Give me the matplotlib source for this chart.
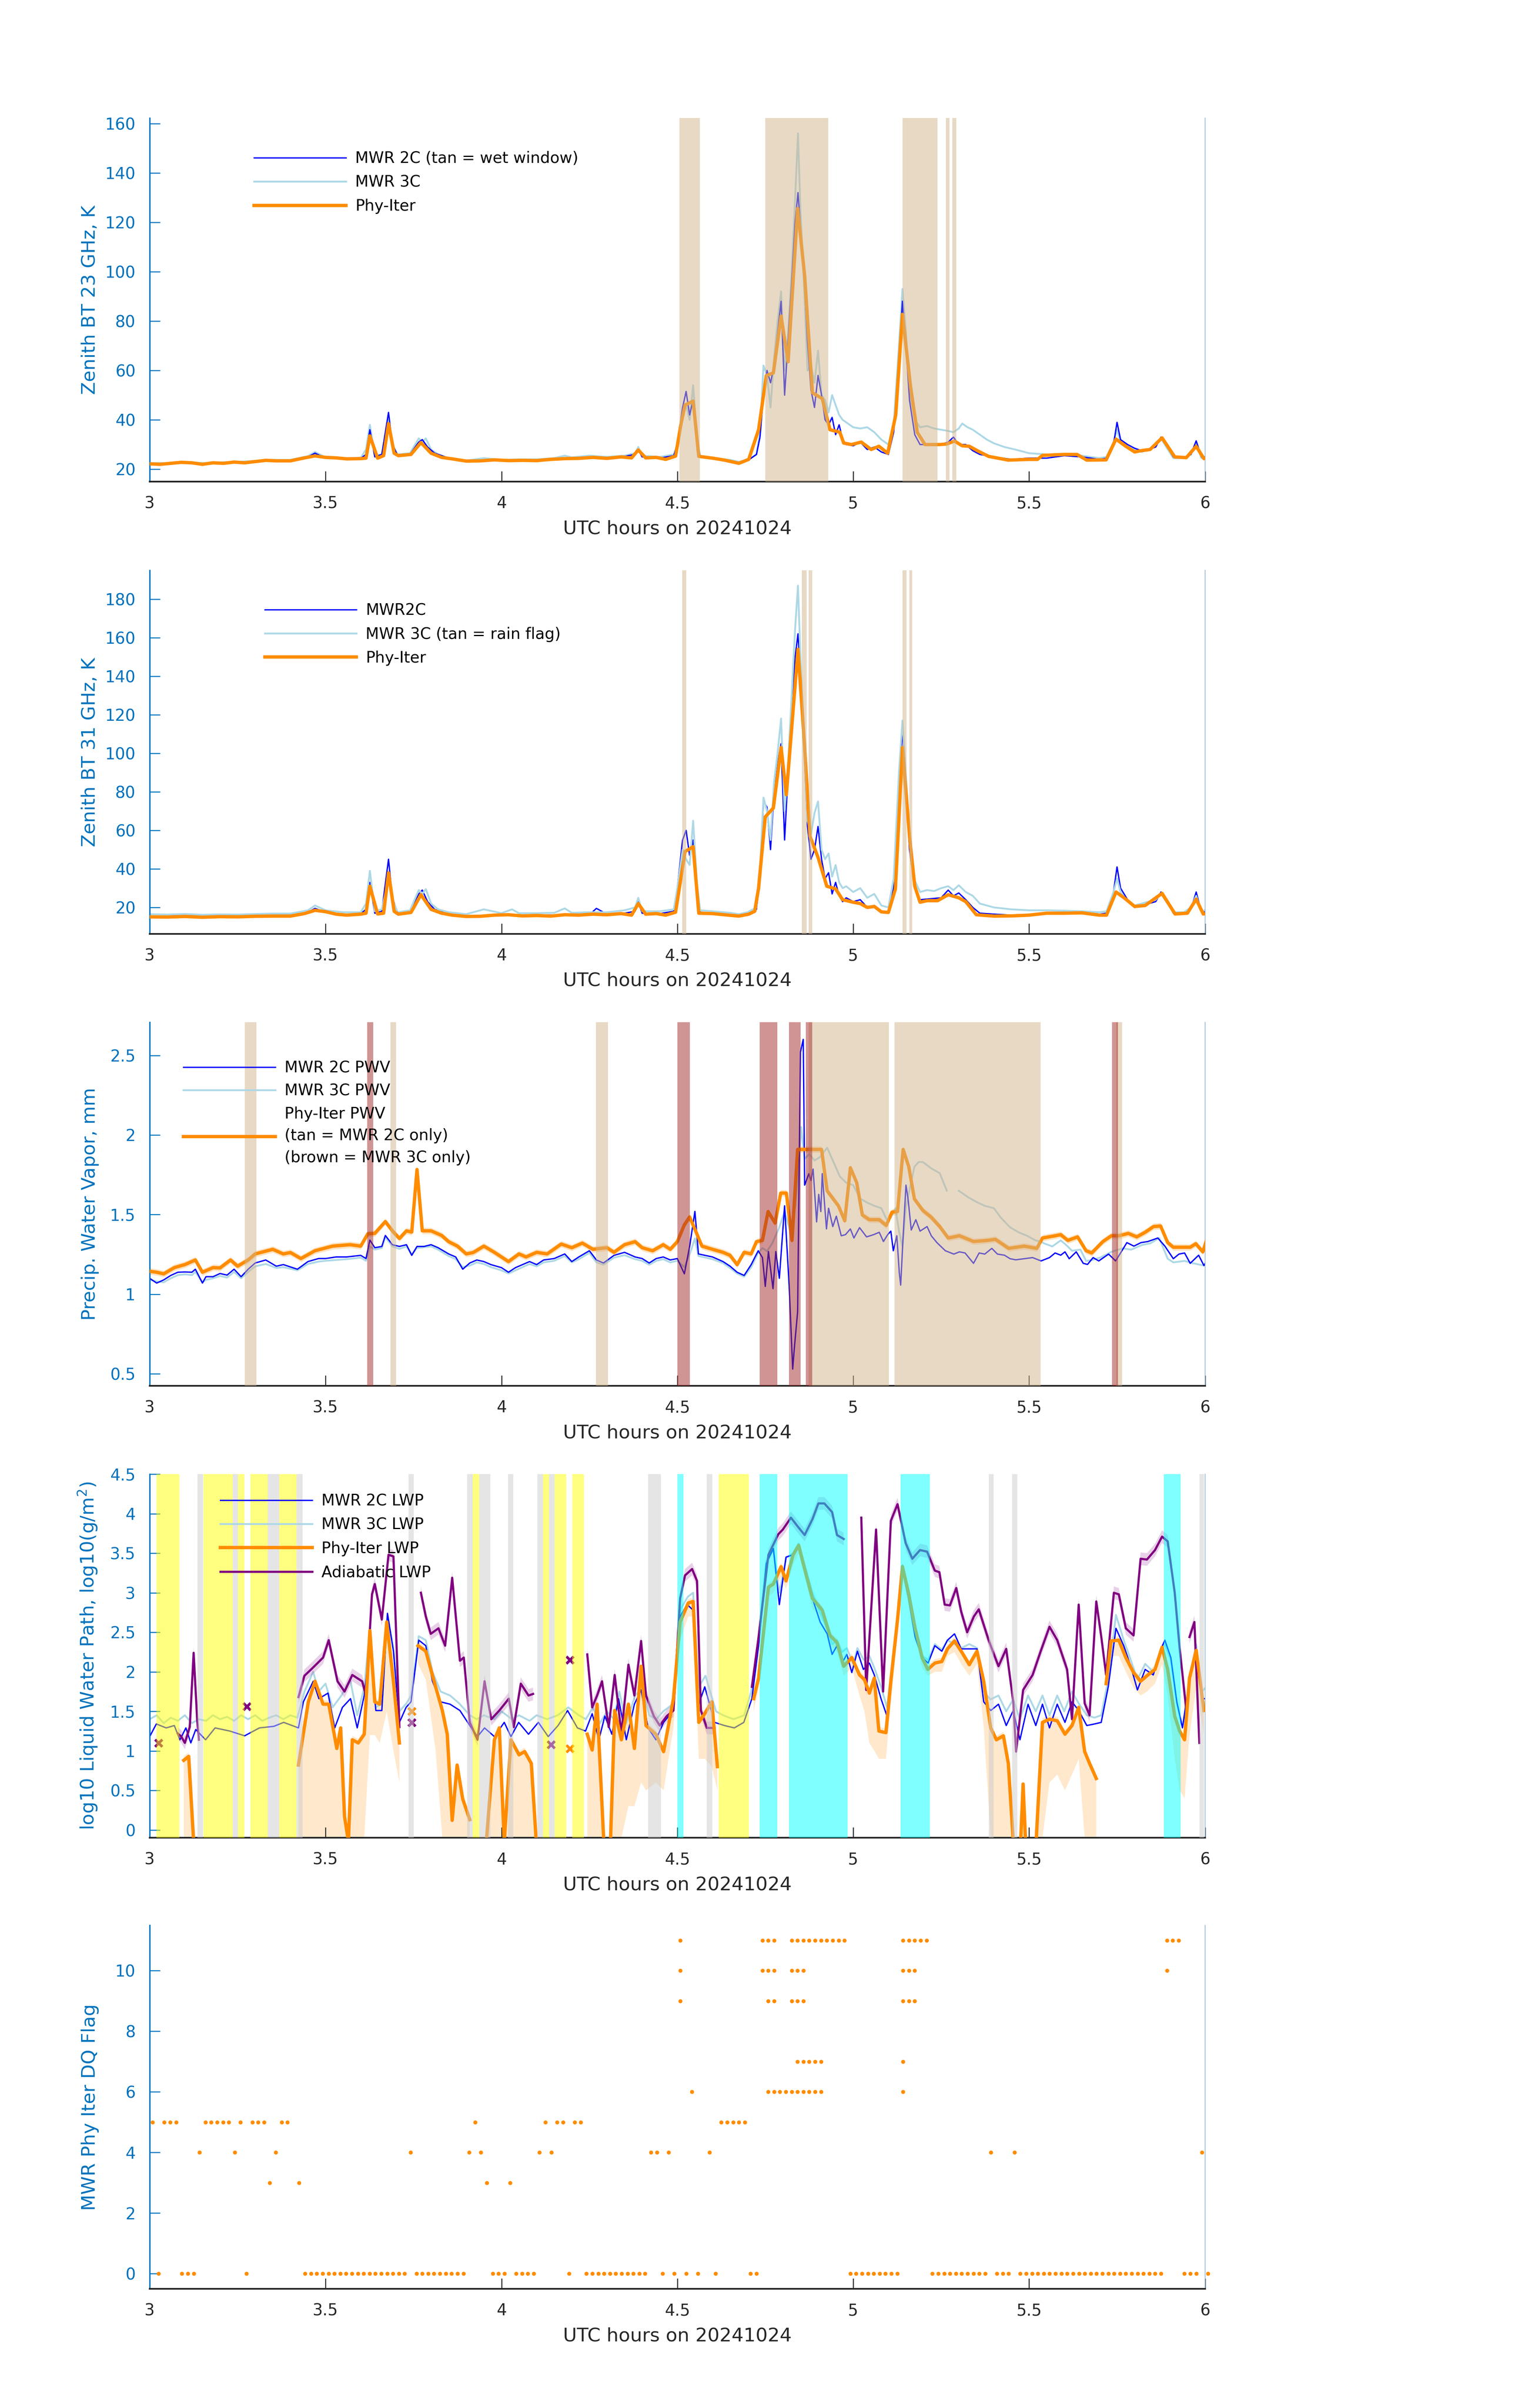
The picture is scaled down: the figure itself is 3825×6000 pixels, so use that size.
import numpy as np
import matplotlib
matplotlib.use('Agg')
import matplotlib.pyplot as plt
from matplotlib.ticker import FuncFormatter

nan = np.nan

# ---------------- panel 1: zenith BT 23 GHz (time [h], K) ----------------
bt23_2c = [(3.00,22.0),(3.05,22.3),(3.10,22.9),(3.15,22.2),(3.20,22.5),(3.25,22.8),(3.30,23.2),(3.35,23.6),
           (3.40,23.5),(3.45,25.0),(3.47,26.5),(3.50,24.5),(3.55,24.3),(3.60,24.4),(3.615,26),(3.626,36),
           (3.64,25),(3.66,26),(3.679,43),(3.69,30),(3.705,25.5),(3.74,26),(3.765,31),(3.775,32),(3.79,29),
           (3.81,26.5),(3.85,24.5),(3.90,23.2),(3.95,23.5),(4.00,23.4),(4.05,23.5),(4.10,23.6),(4.15,24.0),
           (4.20,24.6),(4.25,24.8),(4.30,24.5),(4.35,25.2),(4.38,26),(4.389,28),(4.40,25),(4.45,24.5),
           (4.49,25.5),(4.50,30),(4.515,45),(4.525,51.5),(4.535,42),(4.545,48),(4.556,30),(4.565,25),
           (4.60,24.3),(4.65,23.5),(4.675,22.5),(4.70,23.5),(4.725,26),(4.735,33),(4.745,50),(4.755,60),
           (4.765,55),(4.775,62),(4.785,75),(4.795,88),(4.805,50),(4.815,72),(4.825,95),(4.835,120),
           (4.843,132),(4.85,118),(4.86,100),(4.87,72),(4.88,52),(4.89,45),(4.90,58),(4.91,50),(4.92,40),
           (4.93,38),(4.94,41),(4.95,34),(4.96,38),(4.97,32),(4.98,30),(5.00,29.5),(5.02,31),(5.04,28),
           (5.06,29),(5.08,27),(5.10,26),(5.115,35),(5.13,60),(5.14,88),(5.15,70),(5.16,48),(5.175,34),
           (5.19,30),(5.22,30),(5.25,30),(5.27,31),(5.285,33),(5.30,30),(5.32,30),(5.34,27.5),(5.36,26),
           (5.40,25),(5.45,24),(5.50,24.5),(5.55,24.5),(5.60,25.5),(5.65,25),(5.70,24),(5.72,24.5),
           (5.74,30),(5.75,39),(5.76,32),(5.78,30),(5.80,28.5),(5.82,27.5),(5.84,28),(5.86,29),(5.875,33),
           (5.89,30),(5.91,25),(5.94,24.5),(5.96,26),(5.975,31.5),(5.99,25),(6.01,25)]
bt23_3c = [(3.00,22.5),(3.05,22.5),(3.10,23.0),(3.15,22.5),(3.20,22.8),(3.25,23.0),(3.30,23.4),(3.35,23.8),
           (3.40,23.8),(3.45,25.3),(3.47,27),(3.50,24.8),(3.55,24.5),(3.60,24.6),(3.615,28),(3.626,38),
           (3.64,25.5),(3.66,26),(3.679,40),(3.69,30),(3.705,26),(3.74,26.5),(3.765,32.5),(3.775,31),
           (3.785,32.5),(3.80,28),(3.82,26),(3.85,24.5),(3.90,23.5),(3.95,24.5),(4.00,23.8),(4.05,24),
           (4.10,24),(4.15,24.5),(4.18,25.5),(4.20,24.8),(4.25,25.5),(4.30,25),(4.35,25.5),(4.38,26.5),
           (4.389,29),(4.40,25.5),(4.45,25),(4.49,26),(4.50,30),(4.515,44),(4.525,46),(4.535,40),(4.545,54),
           (4.556,32),(4.565,25.5),(4.60,24.5),(4.65,23.8),(4.675,23),(4.70,23.8),(4.725,26),(4.735,35),
           (4.745,62),(4.755,58),(4.765,45),(4.775,65),(4.785,80),(4.795,92),(4.805,60),(4.815,75),
           (4.825,100),(4.835,130),(4.843,156),(4.85,125),(4.86,95),(4.87,60),(4.88,62),(4.89,55),(4.90,68),
           (4.91,50),(4.92,48),(4.93,43),(4.94,50),(4.95,46),(4.96,42),(4.97,40),(4.98,39),(5.00,37),
           (5.02,36.5),(5.04,37),(5.06,35),(5.08,32),(5.10,30),(5.115,38),(5.13,70),(5.14,93),(5.15,75),
           (5.16,52),(5.175,40),(5.19,37),(5.21,37.5),(5.23,36.5),(5.25,36),(5.27,35.5),(5.285,35),
           (5.30,36.5),(5.31,38.5),(5.325,37),(5.34,36),(5.36,34),(5.38,32),(5.40,30.5),(5.43,29),(5.46,28),
           (5.50,26.5),(5.55,26),(5.60,26),(5.65,25.5),(5.70,24.5),(5.72,25),(5.74,31),(5.75,36),(5.76,31),
           (5.78,29),(5.80,28),(5.82,27),(5.84,28),(5.86,29.5),(5.875,32.5),(5.89,29),(5.91,24.5),
           (5.94,24.5),(5.96,26),(5.975,30),(5.99,24.5),(6.01,25)]
bt23_phy = [(3.00,22.2),(3.03,22.0),(3.06,22.4),(3.09,22.8),(3.12,22.6),(3.15,22.0),(3.18,22.6),(3.21,22.4),
            (3.24,22.9),(3.27,22.6),(3.30,23.1),(3.33,23.6),(3.36,23.4),(3.40,23.4),(3.44,24.6),(3.47,25.4),
            (3.50,24.8),(3.53,24.6),(3.56,24.2),(3.60,24.3),(3.615,24.5),(3.626,33.5),(3.648,24.5),
            (3.665,25.5),(3.679,38.5),(3.695,26.5),(3.707,25.5),(3.743,26.0),(3.771,30.8),(3.80,26.5),
            (3.83,24.8),(3.86,24.2),(3.90,23.3),(3.94,23.4),(3.98,23.8),(4.02,23.5),(4.06,23.6),(4.10,23.5),
            (4.14,24.0),(4.18,24.3),(4.22,24.4),(4.26,24.8),(4.30,24.4),(4.34,25.0),(4.37,24.6),(4.389,27.8),
            (4.41,24.6),(4.44,24.8),(4.467,24.0),(4.495,25.3),(4.51,38.0),(4.522,46.0),(4.545,47.6),
            (4.561,25.2),(4.60,24.5),(4.634,23.7),(4.675,22.4),(4.703,24.0),(4.731,36.0),(4.753,57.9),
            (4.773,59.0),(4.795,82.0),(4.815,63.5),(4.842,125.6),(4.862,98.3),(4.884,51.0),(4.912,48.6),
            (4.934,36.0),(4.962,35.0),(4.973,30.6),(4.995,30.0),(5.023,31.0),(5.051,28.0),(5.073,29.3),
            (5.098,26.5),(5.121,42.0),(5.14,82.7),(5.163,53.5),(5.182,35.0),(5.204,30.0),(5.246,30.0),
            (5.265,30.2),(5.288,31.4),(5.31,29.5),(5.33,29.3),(5.357,27.2),(5.385,25.2),(5.441,23.7),
            (5.50,24.0),(5.524,24.0),(5.538,25.6),(5.60,26.0),(5.636,26.0),(5.664,23.7),(5.719,23.8),
            (5.747,32.2),(5.775,29.3),(5.80,27.0),(5.817,27.5),(5.844,28.0),(5.878,32.7),(5.914,25.0),
            (5.947,24.7),(5.975,29.3),(5.997,24.3),(6.011,25.0)]
wet_window = [(4.506,4.564),(4.750,4.929),(5.140,5.240),(5.263,5.274),(5.282,5.293)]

# ---------------- panel 2: zenith BT 31 GHz ----------------
bt31_2c = [(3.00,15.5),(3.05,15.5),(3.10,15.8),(3.15,15.3),(3.20,15.6),(3.25,15.4),(3.30,15.8),(3.35,16.0),
           (3.40,16.0),(3.45,17.5),(3.47,19.5),(3.50,17.5),(3.55,16.3),(3.60,16.8),(3.615,19),(3.626,33),
           (3.64,17),(3.66,18),(3.679,45),(3.69,25),(3.705,17),(3.74,17.5),(3.765,27),(3.775,29),(3.79,23),
           (3.81,19),(3.85,16.5),(3.90,15.5),(3.95,15.6),(4.00,16.2),(4.05,16),(4.10,16.2),(4.15,16),
           (4.20,16.5),(4.25,16.2),(4.27,19.5),(4.30,16.5),(4.35,17),(4.38,18),(4.389,23),(4.40,17),
           (4.45,16.8),(4.49,18),(4.50,30),(4.515,55),(4.525,60),(4.535,47),(4.545,55),(4.556,30),
           (4.565,17.5),(4.60,17),(4.65,16.2),(4.675,15.5),(4.70,16.5),(4.725,19),(4.735,35),(4.745,75),
           (4.755,72),(4.765,50),(4.775,80),(4.785,95),(4.795,105),(4.805,55),(4.815,90),(4.825,125),
           (4.835,150),(4.843,162),(4.85,140),(4.86,105),(4.87,62),(4.88,45),(4.89,50),(4.90,62),(4.91,45),
           (4.92,35),(4.93,38),(4.94,27),(4.95,33),(4.96,26),(4.97,23),(4.98,25),(5.00,23),(5.02,24),
           (5.04,20),(5.06,21),(5.08,18),(5.10,17.5),(5.115,30),(5.13,80),(5.14,112),(5.15,85),(5.16,50),
           (5.175,30),(5.19,24),(5.22,24.5),(5.25,25),(5.27,29),(5.285,26),(5.30,27.5),(5.32,24),(5.34,20),
           (5.36,17),(5.40,16.5),(5.45,16),(5.50,16.3),(5.55,17.2),(5.60,17.5),(5.65,17.5),(5.70,16.5),
           (5.72,17),(5.74,28),(5.75,41),(5.76,30),(5.78,24),(5.80,20),(5.82,21),(5.84,22),(5.86,23),
           (5.875,28),(5.89,24),(5.91,17),(5.94,17),(5.96,19),(5.975,28),(5.99,17.5),(6.01,18)]
bt31_3c = [(3.00,16.5),(3.05,16.3),(3.10,16.6),(3.15,16.2),(3.20,16.4),(3.25,16.3),(3.30,16.6),(3.35,16.8),
           (3.40,16.8),(3.45,18.5),(3.47,21),(3.50,18.5),(3.55,17.5),(3.60,17.5),(3.615,22),(3.626,39),
           (3.64,18),(3.66,19),(3.679,35),(3.69,24),(3.705,17.5),(3.74,18.5),(3.765,29),(3.775,27),
           (3.785,29.5),(3.80,22),(3.82,19),(3.85,17.5),(3.90,16.5),(3.95,19),(4.00,17),(4.03,19),(4.05,17),
           (4.10,17),(4.15,17.2),(4.18,19.5),(4.20,17.2),(4.25,17.5),(4.30,17.5),(4.35,18.5),(4.38,20),
           (4.389,25),(4.40,18),(4.45,18),(4.49,19),(4.50,30),(4.515,50),(4.525,45),(4.535,42),(4.545,65),
           (4.556,32),(4.565,18.5),(4.60,18),(4.65,17.2),(4.675,16.5),(4.70,17.5),(4.725,20),(4.735,40),
           (4.745,77),(4.755,70),(4.765,55),(4.775,85),(4.785,100),(4.795,118),(4.805,70),(4.815,95),
           (4.825,130),(4.835,165),(4.843,187),(4.85,150),(4.86,110),(4.87,65),(4.88,58),(4.89,69),
           (4.90,75),(4.91,50),(4.92,45),(4.93,48),(4.94,36),(4.95,42),(4.96,33),(4.97,30),(4.98,31),
           (5.00,28),(5.02,30),(5.04,25),(5.06,27),(5.08,21),(5.10,20),(5.115,35),(5.13,90),(5.14,117),
           (5.15,88),(5.16,55),(5.175,34),(5.19,28),(5.21,29),(5.23,28.5),(5.25,30),(5.27,31),(5.285,29),
           (5.30,31.5),(5.32,28),(5.34,26),(5.36,22),(5.40,20),(5.45,19),(5.50,18.5),(5.55,18.5),(5.60,18.3),
           (5.65,18),(5.70,17.5),(5.72,18),(5.74,28),(5.75,35),(5.76,28),(5.78,23),(5.80,21),(5.82,22),
           (5.84,23),(5.86,24),(5.875,27),(5.89,23),(5.91,17.5),(5.94,17.5),(5.96,20),(5.975,26),(5.99,18),
           (6.01,19)]
bt31_phy = [(3.00,15.1),(3.05,15.0),(3.10,15.3),(3.15,14.9),(3.20,15.2),(3.25,15.1),(3.30,15.4),(3.35,15.5),
            (3.40,15.5),(3.44,16.8),(3.47,18.5),(3.50,17.8),(3.53,16.5),(3.56,16.0),(3.60,16.5),(3.615,17),
            (3.626,31),(3.648,16.6),(3.665,17),(3.679,38),(3.695,18),(3.707,16.5),(3.743,17.4),(3.771,26.6),
            (3.80,19),(3.83,17),(3.86,16),(3.90,15.3),(3.94,15.4),(3.98,16.0),(4.02,16.2),(4.06,15.6),
            (4.10,15.8),(4.14,15.5),(4.18,16.2),(4.22,16.0),(4.26,16.5),(4.30,16.2),(4.34,16.8),(4.37,16.0),
            (4.389,22.0),(4.41,16.5),(4.44,16.8),(4.467,16.0),(4.495,17.5),(4.51,35),(4.522,49),(4.545,51.5),
            (4.561,17),(4.60,16.8),(4.634,16.2),(4.675,15.5),(4.703,16.5),(4.72,18),(4.731,30),(4.75,67),
            (4.773,71.6),(4.795,103),(4.81,78.5),(4.843,154),(4.862,103),(4.877,57),(4.90,46),(4.925,31),
            (4.95,29.6),(4.97,24),(5.00,22.7),(5.02,22),(5.04,20),(5.06,20.5),(5.08,17.7),(5.10,17.4),
            (5.12,29.6),(5.14,103),(5.16,57),(5.175,31),(5.19,22.7),(5.21,23.5),(5.24,23.5),(5.27,26.6),
            (5.30,25),(5.32,23),(5.35,16.2),(5.40,15.5),(5.45,15.6),(5.50,16.0),(5.55,17),(5.60,17),
            (5.65,17.2),(5.70,16.0),(5.72,16),(5.747,28),(5.77,25),(5.80,20.5),(5.83,21),(5.878,27.3),
            (5.915,16.6),(5.95,17),(5.975,24.3),(5.995,16.6),(6.01,17)]
rain_flag = [(4.514,4.525),(4.854,4.868),(4.873,4.884),(5.140,5.152),(5.160,5.168)]

# ---------------- panel 3: precipitable water vapor (mm) ----------------
pwv_2c = [(3.00,1.10),(3.02,1.07),(3.04,1.09),(3.06,1.118),(3.08,1.138),(3.10,1.14),(3.12,1.138),(3.13,1.157),
          (3.15,1.07),(3.16,1.11),(3.18,1.11),(3.20,1.13),(3.22,1.12),(3.24,1.157),(3.26,1.11),(3.28,1.157),
          (3.30,1.196),(3.33,1.215),(3.36,1.176),(3.38,1.186),(3.42,1.157),(3.45,1.205),(3.48,1.224),
          (3.50,1.224),(3.53,1.234),(3.56,1.234),(3.60,1.244),(3.615,1.224),(3.626,1.34),(3.64,1.292),
          (3.66,1.30),(3.67,1.369),(3.69,1.311),(3.71,1.30),(3.73,1.311),(3.745,1.244),(3.76,1.30),
          (3.78,1.30),(3.80,1.311),(3.82,1.292),(3.85,1.253),(3.87,1.234),(3.89,1.157),(3.91,1.196),
          (3.93,1.215),(3.95,1.205),(3.97,1.186),(4.00,1.167),(4.02,1.138),(4.04,1.167),(4.06,1.186),
          (4.08,1.205),(4.10,1.186),(4.12,1.215),(4.15,1.224),(4.18,1.253),(4.20,1.205),(4.22,1.234),
          (4.25,1.273),(4.27,1.215),(4.29,1.196),(4.32,1.244),(4.35,1.263),(4.38,1.234),(4.40,1.224),
          (4.42,1.196),(4.44,1.224),(4.46,1.234),(4.48,1.215),(4.50,1.224),(4.51,1.176),(4.52,1.128),
          (4.535,1.30),(4.55,1.52),(4.56,1.253),(4.60,1.234),(4.63,1.205),(4.65,1.176),(4.67,1.138),
          (4.69,1.118),(4.71,1.186),(4.73,1.273),(4.742,1.23),(4.75,1.049),(4.759,1.268),(4.772,1.035),
          (4.78,1.268),(4.79,1.10),(4.805,1.555),(4.818,1.049),(4.828,0.53),(4.833,0.67),(4.842,0.89),
          (4.85,2.52),(4.858,2.60),(4.862,1.685),(4.874,1.757),(4.88,1.714),(4.886,1.786),(4.896,1.454),
          (4.902,1.627),(4.908,1.519),(4.912,1.757),(4.924,1.41),(4.93,1.54),(4.942,1.425),(4.952,1.49),
          (4.966,1.367),(4.978,1.374),(4.992,1.41),(5.002,1.353),(5.018,1.418),(5.038,1.36),(5.058,1.374),
          (5.074,1.389),(5.086,1.331),(5.098,1.374),(5.107,1.396),(5.114,1.273),(5.124,1.367),(5.131,1.136),
          (5.135,1.057),(5.142,1.367),(5.15,1.685),(5.156,1.598),(5.165,1.403),(5.178,1.468),(5.19,1.396),
          (5.21,1.425),(5.222,1.367),(5.238,1.324),(5.262,1.273),(5.286,1.252),(5.302,1.266),(5.318,1.259),
          (5.342,1.194),(5.358,1.259),(5.374,1.252),(5.394,1.288),(5.41,1.252),(5.43,1.245),(5.446,1.223),
          (5.462,1.216),(5.486,1.223),(5.51,1.23),(5.534,1.209),(5.558,1.23),(5.574,1.259),(5.59,1.245),
          (5.602,1.266),(5.614,1.223),(5.634,1.266),(5.654,1.194),(5.666,1.187),(5.682,1.23),(5.698,1.209),
          (5.726,1.252),(5.746,1.209),(5.762,1.266),(5.778,1.324),(5.798,1.302),(5.818,1.324),(5.838,1.331),
          (5.866,1.353),(5.886,1.302),(5.91,1.223),(5.926,1.252),(5.942,1.259),(5.958,1.194),(5.982,1.245),
          (5.997,1.18),(6.01,1.23)]
pwv_3c = [(3.00,1.09),(3.02,1.08),(3.04,1.075),(3.06,1.10),(3.08,1.12),(3.10,1.125),(3.12,1.12),(3.13,1.14),
          (3.15,1.075),(3.16,1.09),(3.18,1.10),(3.20,1.115),(3.22,1.105),(3.24,1.14),(3.26,1.10),(3.28,1.14),
          (3.30,1.175),(3.33,1.19),(3.36,1.165),(3.38,1.17),(3.42,1.15),(3.45,1.19),(3.48,1.205),(3.50,1.21),
          (3.53,1.215),(3.56,1.22),(3.60,1.23),(3.615,1.21),(3.626,1.30),(3.64,1.28),(3.66,1.29),(3.67,1.36),
          (3.69,1.30),(3.71,1.285),(3.73,1.30),(3.745,1.25),(3.76,1.29),(3.78,1.295),(3.80,1.30),(3.82,1.28),
          (3.85,1.24),(3.87,1.22),(3.89,1.17),(3.91,1.18),(3.93,1.20),(3.95,1.19),(3.97,1.17),(4.00,1.15),
          (4.02,1.13),(4.04,1.15),(4.06,1.17),(4.08,1.19),(4.10,1.175),(4.12,1.20),(4.15,1.21),(4.18,1.24),
          (4.20,1.20),(4.22,1.22),(4.25,1.26),(4.27,1.20),(4.29,1.185),(4.32,1.23),(4.35,1.245),(4.38,1.22),
          (4.40,1.21),(4.42,1.185),(4.44,1.21),(4.46,1.22),(4.48,1.20),(4.50,1.21),(4.51,1.19),(4.52,1.17),
          (4.535,1.25),(4.55,1.35),(4.56,1.24),(4.60,1.22),(4.63,1.195),(4.65,1.165),(4.67,1.13),(4.69,1.11),
          (4.71,1.17),(4.73,1.26),(4.742,1.29),(4.755,1.27),(4.77,1.32),(4.79,1.42),(4.805,1.52),(4.82,1.40),
          (4.835,1.55),(4.845,1.80),(4.852,2.05),(4.862,1.85),(4.875,1.88),(4.89,1.84),(4.905,1.86),
          (4.926,1.92),(4.95,1.80),(4.962,1.74),(4.98,1.70),(5.00,1.685),(5.02,1.60),(5.04,1.575),
          (5.06,1.555),(5.08,1.54),(5.095,1.47),(5.107,1.48),(5.12,1.54),(5.13,1.40),(5.14,1.30),(5.15,1.55),
          (5.174,1.80),(5.186,1.83),(5.198,1.83),(5.222,1.79),(5.246,1.76),(5.266,1.65),(5.28,nan),
          (5.30,1.65),(5.326,1.61),(5.35,1.58),(5.374,1.555),(5.40,1.54),(5.42,1.48),(5.446,1.42),
          (5.47,1.389),(5.494,1.367),(5.518,1.338),(5.534,1.33),(5.542,1.32),(5.566,1.30),(5.59,1.338),
          (5.605,1.31),(5.622,1.273),(5.646,1.28),(5.662,1.209),(5.68,1.215),(5.702,1.23),(5.734,1.266),
          (5.766,1.288),(5.79,1.28),(5.822,1.31),(5.845,1.32),(5.87,1.353),(5.894,1.223),(5.91,1.20),
          (5.942,1.209),(5.965,1.195),(5.997,1.18),(6.01,1.19)]
pwv_phy = [(3.00,1.144),(3.02,1.138),(3.04,1.128),(3.07,1.167),(3.10,1.186),(3.13,1.215),(3.15,1.138),
           (3.18,1.167),(3.20,1.165),(3.23,1.215),(3.25,1.176),(3.28,1.215),(3.30,1.253),(3.35,1.282),
           (3.38,1.253),(3.40,1.262),(3.43,1.224),(3.47,1.273),(3.52,1.302),(3.57,1.311),(3.60,1.302),
           (3.62,1.379),(3.64,1.382),(3.67,1.456),(3.69,1.398),(3.71,1.35),(3.73,1.398),(3.745,1.39),
           (3.76,1.783),(3.775,1.398),(3.80,1.398),(3.83,1.369),(3.85,1.33),(3.875,1.302),(3.90,1.253),
           (3.92,1.262),(3.95,1.302),(3.98,1.263),(4.02,1.205),(4.05,1.253),(4.07,1.234),(4.10,1.263),
           (4.13,1.253),(4.17,1.315),(4.20,1.292),(4.23,1.321),(4.26,1.282),(4.30,1.292),(4.32,1.263),
           (4.35,1.311),(4.38,1.33),(4.40,1.292),(4.43,1.273),(4.46,1.311),(4.48,1.282),(4.50,1.33),
           (4.52,1.436),(4.535,1.485),(4.55,1.408),(4.57,1.302),(4.60,1.282),(4.63,1.263),(4.65,1.244),
           (4.67,1.186),(4.69,1.263),(4.71,1.253),(4.725,1.33),(4.742,1.338),(4.758,1.519),(4.778,1.447),
           (4.794,1.635),(4.81,1.635),(4.826,1.338),(4.842,1.909),(4.91,1.909),(4.926,1.649),(4.958,1.555),
           (4.976,1.461),(4.992,1.794),(5.01,1.70),(5.026,1.497),(5.046,1.468),(5.074,1.468),(5.094,1.432),
           (5.11,1.515),(5.126,1.519),(5.142,1.909),(5.158,1.80),(5.174,1.598),(5.198,1.526),(5.222,1.483),
           (5.246,1.425),(5.27,1.353),(5.302,1.367),(5.342,1.331),(5.382,1.338),(5.404,1.345),(5.442,1.288),
           (5.486,1.302),(5.522,1.288),(5.538,1.353),(5.574,1.367),(5.59,1.374),(5.61,1.338),(5.638,1.36),
           (5.662,1.273),(5.678,1.259),(5.71,1.331),(5.734,1.367),(5.756,1.367),(5.782,1.382),(5.806,1.36),
           (5.83,1.389),(5.854,1.425),(5.874,1.428),(5.894,1.324),(5.91,1.295),(5.958,1.295),(5.974,1.317),
           (5.994,1.266),(6.01,1.38)]
pwv_phy_err = 0.02
pwv_2c_only = [(3.270,3.303),(3.685,3.701),(4.269,4.303),(4.873,5.101),(5.118,5.533),(5.747,5.764)]
pwv_3c_only = [(3.618,3.635),(4.500,4.536),(4.734,4.784),(4.817,4.851),(4.865,4.884),(5.736,5.753)]

# ---------------- panel 4: log10 LWP ----------------
lwp_2c = [(3.000,1.18),(3.019,1.34),(3.047,1.29),(3.070,1.32),(3.086,1.14),(3.103,1.29),(3.117,1.10),
          (3.131,1.27),(3.159,1.14),(3.186,1.29),(3.228,1.25),(3.270,1.19),(3.312,1.29),(3.353,1.31),
          (3.381,1.36),(3.423,1.29),(3.437,1.62),(3.465,1.88),(3.481,1.66),(3.507,1.73),(3.526,1.29),
          (3.548,1.55),(3.571,1.66),(3.590,1.29),(3.610,1.70),(3.626,2.33),(3.643,1.51),(3.660,1.51),
          (3.676,2.74),(3.693,2.26),(3.710,1.36),(3.729,1.55),(3.743,1.62),(3.765,2.40),(3.785,2.33),
          (3.804,1.88),(3.827,1.62),(3.854,1.59),(3.882,1.51),(3.910,1.32),(3.932,1.18),(3.952,1.29),
          (3.980,1.18),(4.008,1.36),(4.027,1.18),(4.049,1.36),(4.077,1.21),(4.105,1.36),(4.133,1.18),
          (4.161,1.32),(4.188,1.51),(4.216,1.29),(4.239,1.25),(4.258,1.47),(4.277,1.14),(4.294,1.44),
          (4.314,1.21),(4.333,1.66),(4.355,1.14),(4.378,1.59),(4.397,1.77),(4.417,1.29),(4.439,1.14),
          (4.461,1.36),(4.489,1.51),(4.508,2.70),(4.528,2.85),(4.545,2.78),(4.561,1.59),(4.578,1.81),
          (4.606,1.36),(4.634,1.32),(4.662,1.29),(4.689,1.36),(4.712,1.66),(4.731,2.33),(4.753,3.37),
          (4.773,3.56),(4.790,2.85),(4.809,3.45),(4.829,3.48),(4.845,3.60),(4.862,3.30),(4.884,2.93),
          (4.906,2.63),(4.926,2.48),(4.940,2.22),(4.954,2.33),(4.968,2.11),(4.982,2.22),(4.996,1.99),
          (5.012,2.26),(5.029,2.03),(5.046,2.11),(5.060,1.96),(5.079,1.66),(5.096,1.44),(5.107,1.88),
          (5.124,2.59),(5.140,3.30),(5.157,2.93),(5.176,2.44),(5.196,2.18),(5.213,2.11),(5.232,2.33),
          (5.252,2.26),(5.268,2.40),(5.288,2.48),(5.307,2.29),(5.330,2.29),(5.352,2.29),(5.371,1.62),
          (5.391,1.51),(5.413,1.59),(5.435,1.32),(5.455,1.51),(5.474,1.14),(5.497,1.59),(5.519,1.32),
          (5.538,1.59),(5.558,1.29),(5.580,1.59),(5.602,1.36),(5.622,1.62),(5.641,1.51),(5.664,1.32),
          (5.686,1.34),(5.705,1.36),(5.725,1.81),(5.747,2.55),(5.769,2.33),(5.789,2.07),(5.808,1.77),
          (5.830,2.03),(5.853,1.96),(5.872,2.26),(5.886,2.40),(5.903,2.18),(5.920,1.62),(5.936,1.29),
          (5.956,1.88),(5.975,2.26),(5.992,1.66),(6.011,1.66)]
lwp_3c = [(3.00,1.40),(3.02,1.45),(3.04,1.35),(3.06,1.42),(3.08,1.38),(3.10,1.45),(3.12,1.35),(3.14,1.40),
          (3.16,1.38),(3.18,1.45),(3.20,1.40),(3.22,1.43),(3.24,1.38),(3.26,1.45),(3.28,1.40),(3.30,1.45),
          (3.32,1.38),(3.34,1.42),(3.36,1.45),(3.38,1.40),(3.40,1.45),(3.42,1.42),(3.44,1.75),(3.465,2.0),
          (3.48,1.75),(3.50,1.85),(3.52,1.55),(3.545,1.70),(3.57,1.90),(3.59,1.45),(3.61,1.80),(3.626,2.55),
          (3.643,1.55),(3.66,1.60),(3.676,2.70),(3.693,2.30),(3.71,1.50),(3.73,1.60),(3.743,1.70),(3.765,2.45),
          (3.785,2.40),(3.804,2.0),(3.827,1.75),(3.854,1.70),(3.88,1.60),(3.91,1.45),(3.93,1.40),(3.95,1.45),
          (3.98,1.40),(4.00,1.50),(4.03,1.40),(4.05,1.45),(4.08,1.38),(4.10,1.45),(4.13,1.40),(4.16,1.45),
          (4.19,1.55),(4.22,1.45),(4.24,1.40),(4.26,1.55),(4.28,1.35),(4.30,1.50),(4.32,1.40),(4.335,1.75),
          (4.355,1.35),(4.38,1.70),(4.40,1.80),(4.42,1.45),(4.44,1.40),(4.46,1.50),(4.49,1.60),(4.51,2.80),
          (4.53,2.95),(4.545,3.00),(4.56,1.80),(4.58,1.95),(4.61,1.50),(4.63,1.45),(4.66,1.40),(4.69,1.45),
          (4.71,1.75),(4.73,2.40),(4.753,3.40),(4.773,3.55),(4.79,3.00),(4.81,3.45),(4.83,3.50),(4.845,3.62),
          (4.862,3.35),(4.884,3.00),(4.906,2.75),(4.926,2.55),(4.94,2.35),(4.954,2.40),(4.968,2.25),
          (4.982,2.30),(5.00,2.10),(5.012,2.30),(5.03,2.15),(5.046,2.20),(5.06,2.05),(5.08,1.80),(5.096,1.55),
          (5.107,1.95),(5.124,2.65),(5.14,3.35),(5.157,3.00),(5.176,2.50),(5.196,2.20),(5.213,2.15),
          (5.232,2.35),(5.252,2.28),(5.268,2.40),(5.288,2.35),(5.307,2.30),(5.33,2.35),(5.352,2.30),
          (5.371,1.75),(5.39,1.65),(5.413,1.70),(5.435,1.50),(5.455,1.65),(5.474,1.40),(5.497,1.70),
          (5.519,1.50),(5.538,1.70),(5.558,1.45),(5.58,1.70),(5.60,1.50),(5.622,1.75),(5.641,1.60),
          (5.664,1.45),(5.686,1.42),(5.705,1.45),(5.725,1.90),(5.747,2.72),(5.769,2.40),(5.789,2.15),
          (5.808,1.90),(5.83,2.10),(5.853,2.00),(5.872,2.25),(5.886,2.35),(5.903,2.15),(5.92,1.60),
          (5.936,1.30),(5.956,1.90),(5.975,2.35),(5.992,1.75),(6.011,1.85)]
# Phy-Iter LWP: (time, value, lower edge of uncertainty shading)
lwp_phy = [(3.097,0.88,-0.1),(3.111,0.93,-0.1),(3.125,-0.15,-0.1),(3.13,nan,nan),
           (3.423,0.82,-0.1),(3.451,1.62,-0.1),(3.47,1.88,-0.1),(3.493,1.59,-0.1),(3.509,1.59,-0.1),
           (3.532,1.03,-0.1),(3.543,1.29,-0.1),(3.554,0.17,-0.1),(3.565,-0.15,-0.1),(3.576,1.14,-0.1),
           (3.593,1.10,-0.1),(3.61,1.21,-0.1),(3.626,2.52,1.2),(3.64,1.62,1.2),(3.654,1.59,1.1),
           (3.674,2.63,1.5),(3.693,1.88,1.0),(3.71,1.10,0.6),(3.72,nan,nan),
           (3.763,2.33,2.1),(3.785,2.26,1.9),(3.813,1.81,1.0),(3.832,1.51,-0.1),(3.846,1.21,-0.1),
           (3.86,0.12,-0.1),(3.874,0.82,-0.1),(3.89,0.39,-0.1),(3.91,0.13,-0.1),(3.92,nan,nan),
           (3.957,-0.15,-0.1),(3.98,1.14,-0.1),(3.994,1.29,-0.1),(4.008,-0.15,-0.1),(4.027,1.14,-0.1),
           (4.05,0.95,-0.1),(4.066,0.99,-0.1),(4.085,0.84,-0.1),(4.099,-0.15,-0.1),(4.11,nan,nan),
           (4.244,1.21,-0.1),(4.258,1.01,-0.1),(4.272,1.59,-0.1),(4.291,-0.15,-0.1),(4.31,-0.15,-0.1),
           (4.322,1.51,-0.1),(4.341,1.14,-0.1),(4.361,1.59,0.3),(4.378,1.03,0.3),(4.397,2.07,0.6),
           (4.411,1.32,0.5),(4.439,1.21,0.6),(4.461,0.99,0.5),(4.489,1.66,1.3),(4.508,2.63,2.4),
           (4.531,2.87,2.7),(4.545,2.89,2.7),(4.561,1.36,0.9),(4.578,1.47,0.9),(4.598,1.62,0.8),
           (4.614,0.80,0.5),(4.62,nan,nan),
           (4.717,1.66,1.5),(4.731,1.92,1.8),(4.759,3.07,2.95),(4.773,3.11,3.0),(4.795,3.33,3.2),
           (4.809,3.15,3.05),(4.829,3.48,3.35),(4.845,3.60,3.5),(4.862,3.30,3.2),(4.884,2.93,2.8),
           (4.912,2.78,2.65),(4.934,2.46,2.35),(4.954,2.37,2.25),(4.973,2.07,1.95),(4.996,2.18,2.05),
           (5.018,1.96,1.7),(5.032,1.90,1.5),(5.046,1.73,1.1),(5.06,1.92,1.0),(5.073,1.25,0.9),
           (5.093,1.23,0.9),(5.107,1.88,1.6),(5.126,2.66,2.5),(5.14,3.33,3.2),(5.157,3.00,2.9),
           (5.176,2.55,2.45),(5.196,2.18,2.05),(5.212,2.03,1.95),(5.232,2.11,2.0),(5.252,2.13,2.0),
           (5.268,2.29,2.2),(5.288,2.39,2.25),(5.307,2.26,2.1),(5.33,2.09,1.95),(5.352,2.26,2.1),
           (5.371,1.88,1.3),(5.391,1.29,-0.1),(5.407,1.14,-0.1),(5.427,1.19,-0.1),(5.441,0.84,-0.1),
           (5.455,-0.15,-0.1),(5.465,nan,nan),(5.476,-0.15,-0.1),(5.483,0.58,-0.1),(5.49,-0.15,-0.1),
           (5.50,nan,nan),(5.52,-0.15,-0.1),(5.538,1.36,-0.1),(5.558,1.40,0.6),(5.58,1.38,0.7),
           (5.602,1.21,0.5),(5.622,1.32,0.7),(5.641,1.55,0.9),(5.658,0.99,-0.1),(5.672,0.84,-0.1),
           (5.691,0.65,-0.1),(5.70,nan,nan),
           (5.719,1.85,1.6),(5.733,2.39,2.2),(5.755,2.40,2.2),(5.775,2.18,2.0),(5.797,1.99,1.8),
           (5.817,1.88,1.7),(5.835,1.95,1.75),(5.858,2.03,1.85),(5.878,2.31,2.1),(5.894,2.03,1.7),
           (5.914,1.44,0.9),(5.928,1.25,0.5),(5.942,1.14,0.4),(5.956,1.92,1.2),(5.975,2.27,1.8),
           (5.997,1.51,1.2)]
lwp_adi = [(3.08,1.22),(3.09,1.18),(3.10,1.10),(3.114,1.30),(3.125,2.24),(3.135,1.40),(3.14,1.14),(3.145,nan),
           (3.423,1.68),(3.44,1.95),(3.459,2.03),(3.475,2.10),(3.493,2.18),(3.509,2.40),(3.534,1.88),
           (3.554,1.75),(3.576,1.96),(3.604,1.88),(3.615,1.70),(3.632,2.98),(3.64,3.11),(3.66,2.66),
           (3.679,3.48),(3.693,3.46),(3.71,1.30),(3.72,nan),
           (3.771,3.00),(3.785,2.70),(3.799,2.48),(3.821,2.55),(3.84,2.33),(3.86,3.19),(3.882,2.14),
           (3.893,2.18),(3.91,1.36),(3.932,1.14),(3.952,1.88),(3.971,1.40),(3.994,1.51),(4.021,1.66),
           (4.035,1.30),(4.055,1.85),(4.077,1.70),(4.09,1.72),(4.10,nan),
           (4.244,2.22),(4.258,1.55),(4.272,1.70),(4.286,1.88),(4.305,1.30),(4.322,1.96),(4.341,1.22),
           (4.361,2.09),(4.378,1.70),(4.397,2.39),(4.411,1.70),(4.433,1.44),(4.45,1.32),(4.47,1.44),
           (4.489,1.51),(4.508,2.93),(4.522,3.22),(4.542,3.30),(4.556,3.15),(4.567,1.51),(4.584,1.29),
           (4.606,1.29),(4.61,nan),
           (4.712,1.81),(4.731,2.44),(4.759,3.48),(4.787,3.74),(4.80,3.80),(4.823,3.95),(4.842,3.84),
           (4.862,3.73),(4.884,3.93),(4.901,4.13),(4.918,4.13),(4.94,4.02),(4.954,3.73),(4.973,3.68),
           (4.98,nan),
           (5.023,3.95),(5.037,1.77),(5.065,3.80),(5.085,1.75),(5.107,3.91),(5.126,4.12),(5.149,3.63),
           (5.168,3.43),(5.19,3.54),(5.21,3.52),(5.232,3.28),(5.245,3.26),(5.26,2.85),(5.275,2.84),
           (5.293,3.06),(5.307,2.76),(5.324,2.50),(5.343,2.70),(5.357,2.79),(5.385,2.40),(5.413,2.07),
           (5.435,2.29),(5.455,1.62),(5.463,0.99),(5.483,1.77),(5.51,1.96),(5.533,2.26),(5.558,2.57),
           (5.58,2.40),(5.608,2.03),(5.622,1.40),(5.641,2.85),(5.658,1.60),(5.672,1.45),(5.691,2.89),
           (5.705,2.45),(5.719,1.96),(5.741,3.00),(5.755,2.98),(5.775,2.55),(5.797,2.46),(5.817,3.43),
           (5.835,3.42),(5.858,3.54),(5.878,3.71),(5.894,3.65),(5.914,3.00),(5.928,2.30),(5.947,1.51),
           (5.951,nan),(5.956,2.44),(5.97,2.63),(5.984,1.10)]
lwp_adi_err = 0.08
adi_single = [(3.025,1.10),(3.276,1.56),(3.745,1.36),(4.141,1.08),(4.194,2.15)]
phy_single = [(3.745,1.50),(4.194,1.03)]
lwp_yellow = [(3.02,3.085),(3.153,3.236),(3.251,3.269),(3.286,3.335),(3.369,3.418),(3.918,3.937),
              (4.118,4.135),(4.151,4.184),(4.201,4.234),(4.618,4.703)]
lwp_cyan = [(4.500,4.517),(4.734,4.784),(4.817,4.984),(5.135,5.218),(5.883,5.931)]
lwp_gray = [(3.136,3.152),(3.236,3.251),(3.335,3.369),(3.418,3.435),(3.736,3.751),(3.903,3.918),
            (3.937,3.969),(4.019,4.034),(4.102,4.118),(4.135,4.151),(4.417,4.453),(4.583,4.600),
            (5.385,5.399),(5.452,5.466),(5.984,5.997)]

# ---------------- panel 5: DQ flag, minute index after 03:00 UTC ----------------
dq_minutes = {
    0: [1, 5, 6, 7, 16, 26, 27, 28, 29, 30, 31, 32, 33, 34, 35, 36, 37, 38, 39, 40, 41, 42, 43,
        45, 46, 47, 48, 49, 50, 51, 52, 53, 58, 59, 60, 62, 63, 64, 65, 71, 74, 75, 76, 77, 78, 79,
        80, 81, 82, 83, 84, 87, 89, 91, 93, 96, 102, 103, 119, 120, 121, 122, 123, 124, 125, 126,
        127, 133, 134, 135, 136, 137, 138, 139, 140, 141, 142, 144, 145, 146, 148, 149, 150, 151,
        152, 153, 154, 155, 156, 157, 158, 159, 160, 161, 162, 163, 164, 165, 166, 167, 168, 169,
        170, 171, 172, 176, 177, 178, 180],
    3: [20, 25, 57, 61],
    4: [8, 14, 21, 44, 54, 56, 66, 68, 85, 86, 88, 95, 143, 147, 179],
    5: [0, 2, 3, 4, 9, 10, 11, 12, 13, 15, 17, 18, 19, 22, 23, 55, 67, 69, 70, 72, 73,
        97, 98, 99, 100, 101],
    6: [92, 105, 106, 107, 108, 109, 110, 111, 112, 113, 114, 128],
    7: [110, 111, 112, 113, 114, 128],
    9: [90, 105, 106, 109, 110, 111, 128, 129, 130],
    10: [90, 104, 105, 106, 109, 110, 111, 128, 129, 130, 173],
    11: [90, 104, 105, 106, 109, 110, 111, 112, 113, 114, 115, 116, 117, 118,
         128, 129, 130, 131, 132, 173, 174, 175],
}

# ---------------- styling ----------------
BLUE_AX = '#0072BD'
DARK = '#262626'
C_2C = '#0000FF'
C_3C = '#ADD8E6'
C_PHY = '#FF8C00'
C_ADI = '#800080'
TAN = '#D2B48C'
BROWN = '#A52A2A'
XTICKS = [3, 3.5, 4, 4.5, 5, 5.5, 6]

plt.rcParams['font.family'] = 'DejaVu Sans'
fig = plt.figure(figsize=(12.75, 20), dpi=300)
bottoms = [0.800, 0.6122, 0.4245, 0.2368, 0.0495]
axes = [fig.add_axes([0.0975, b, 0.6875, 0.151]) for b in bottoms]
fmt = FuncFormatter(lambda v, p: f'{v:g}')


def unpack(pairs):
    arr = np.array(pairs, dtype=float)
    return [arr[:, i] for i in range(arr.shape[1])]


def style(ax, ylim, yticks, ylabel):
    ax.set_xlim(3, 6)
    ax.set_ylim(*ylim)
    ax.set_xticks(XTICKS)
    ax.set_yticks(yticks)
    ax.xaxis.set_major_formatter(fmt)
    ax.yaxis.set_major_formatter(fmt)
    ax.tick_params(direction='in', length=6.3, width=0.6, labelsize=9.6, pad=8.5)
    ax.tick_params(axis='x', colors=DARK)
    ax.tick_params(axis='y', colors=BLUE_AX)
    ax.spines['top'].set_visible(False)
    ax.spines['left'].set_color(BLUE_AX)
    ax.spines['left'].set_linewidth(0.8)
    ax.spines['bottom'].set_color(DARK)
    ax.spines['bottom'].set_linewidth(1.0)
    ax.spines['right'].set_color('#8fb4d3')
    ax.spines['right'].set_linewidth(0.4)
    ax.set_xlabel('UTC hours on 20241024', fontsize=11.3, color=DARK, va='top')
    ax.xaxis.set_label_coords(0.5, -0.105)
    ax.set_ylabel(ylabel, fontsize=11.2, color=BLUE_AX)
    ax.yaxis.set_label_coords(-0.048, 0.5)


def bands(ax, spans, color, alpha=0.5):
    for a, b in spans:
        ax.axvspan(a, b, color=color, alpha=alpha, lw=0, zorder=4)


def legend(ax, handles, labels, x, y, spacing=0.55):
    leg = ax.legend(handles, labels, loc='upper left', bbox_to_anchor=(x, y), frameon=False,
                    fontsize=9.3, handlelength=5.9, handletextpad=0.6, labelspacing=spacing,
                    borderpad=0, borderaxespad=0)
    leg.set_zorder(10)
    return leg


# panel 1
ax = axes[0]
t, v = unpack(bt23_2c)
l1, = ax.plot(t, v, color=C_2C, lw=0.8, zorder=2)
t, v = unpack(bt23_3c)
l2, = ax.plot(t, v, color=C_3C, lw=1.1, zorder=1.5)
t, v = unpack(bt23_phy)
l3, = ax.plot(t, v, color=C_PHY, lw=2.0, zorder=3)
bands(ax, wet_window, TAN)
style(ax, (15.0, 162.2), list(range(20, 161, 20)), 'Zenith BT 23 GHz, K')
legend(ax, [l1, l2, l3], ['MWR 2C (tan = wet window)', 'MWR 3C', 'Phy-Iter'], 0.099, 0.909)

# panel 2
ax = axes[1]
t, v = unpack(bt31_3c)
l2, = ax.plot(t, v, color=C_3C, lw=1.1, zorder=1.5)
t, v = unpack(bt31_2c)
l1, = ax.plot(t, v, color=C_2C, lw=0.8, zorder=1.4)
t, v = unpack(bt31_phy)
l3, = ax.plot(t, v, color=C_PHY, lw=2.0, zorder=3)
bands(ax, rain_flag, TAN)
style(ax, (6.3, 195), list(range(20, 181, 20)), 'Zenith BT 31 GHz, K')
legend(ax, [l1, l2, l3], ['MWR2C', 'MWR 3C (tan = rain flag)', 'Phy-Iter'], 0.109, 0.910)

# panel 3
ax = axes[2]
t, v = unpack(pwv_3c)
l2, = ax.plot(t, v, color=C_3C, lw=1.1, zorder=1.5)
t, v = unpack(pwv_2c)
l1, = ax.plot(t, v, color=C_2C, lw=0.8, zorder=1.6)
t, v = unpack(pwv_phy)
ax.fill_between(t, v - pwv_phy_err, v + pwv_phy_err, color=C_PHY, alpha=0.25, lw=0, zorder=2)
l3, = ax.plot(t, v, color=C_PHY, lw=2.0, zorder=3)
bands(ax, pwv_2c_only, TAN)
bands(ax, pwv_3c_only, BROWN)
style(ax, (0.425, 2.708), [0.5, 1, 1.5, 2, 2.5], 'Precip. Water Vapor, mm')
leg = legend(ax, [l1, l2, l3],
             ['MWR 2C PWV', 'MWR 3C PWV', 'Phy-Iter PWV\n(tan = MWR 2C only)\n(brown = MWR 3C only)'],
             0.032, 0.895, spacing=0.5)
for txt in leg.get_texts():
    txt.set_linespacing(1.55)

# panel 4
ax = axes[3]
t, v = unpack(lwp_3c)
l2, = ax.plot(t, v, color=C_3C, lw=1.1, zorder=1.5)
t, v = unpack(lwp_2c)
l1, = ax.plot(t, v, color=C_2C, lw=0.8, zorder=1.6)
t, v = unpack(lwp_adi)
ax.fill_between(t, v - lwp_adi_err, v + lwp_adi_err, color=C_ADI, alpha=0.18, lw=0, zorder=1.7)
l4, = ax.plot(t, v, color=C_ADI, lw=1.3, zorder=2.5)
t, v, lo = unpack(lwp_phy)
ax.fill_between(t, lo, v + 0.05, color=C_PHY, alpha=0.2, lw=0, zorder=1.2)
l3, = ax.plot(t, v, color=C_PHY, lw=2.0, zorder=3)
t, v = unpack(adi_single)
ax.plot(t, v, 'x', color=C_ADI, ms=4.5, mew=1.6, zorder=3)
t, v = unpack(phy_single)
ax.plot(t, v, 'x', color=C_PHY, ms=4.5, mew=1.6, zorder=3)
bands(ax, lwp_gray, '#CCCCCC')
bands(ax, lwp_yellow, '#FFFF00')
bands(ax, lwp_cyan, '#00FFFF')
style(ax, (-0.1, 4.5), [0, 0.5, 1, 1.5, 2, 2.5, 3, 3.5, 4, 4.5],
      'log10 Liquid Water Path, log10(g/m$^2$)')
legend(ax, [l1, l2, l3, l4], ['MWR 2C LWP', 'MWR 3C LWP', 'Phy-Iter LWP', 'Adiabatic LWP'],
       0.067, 0.947)

# panel 5
ax = axes[4]
for flag, mins in dq_minutes.items():
    tt = 3 + (np.array(mins) + 0.5) / 60.0
    ax.plot(tt, np.full(len(tt), flag), 'o', color=C_PHY, ms=2.4, mew=0, zorder=3, clip_on=False)
style(ax, (-0.5, 11.5), [0, 2, 4, 6, 8, 10], 'MWR Phy Iter DQ Flag')

fig.savefig('out.png', dpi=300)
